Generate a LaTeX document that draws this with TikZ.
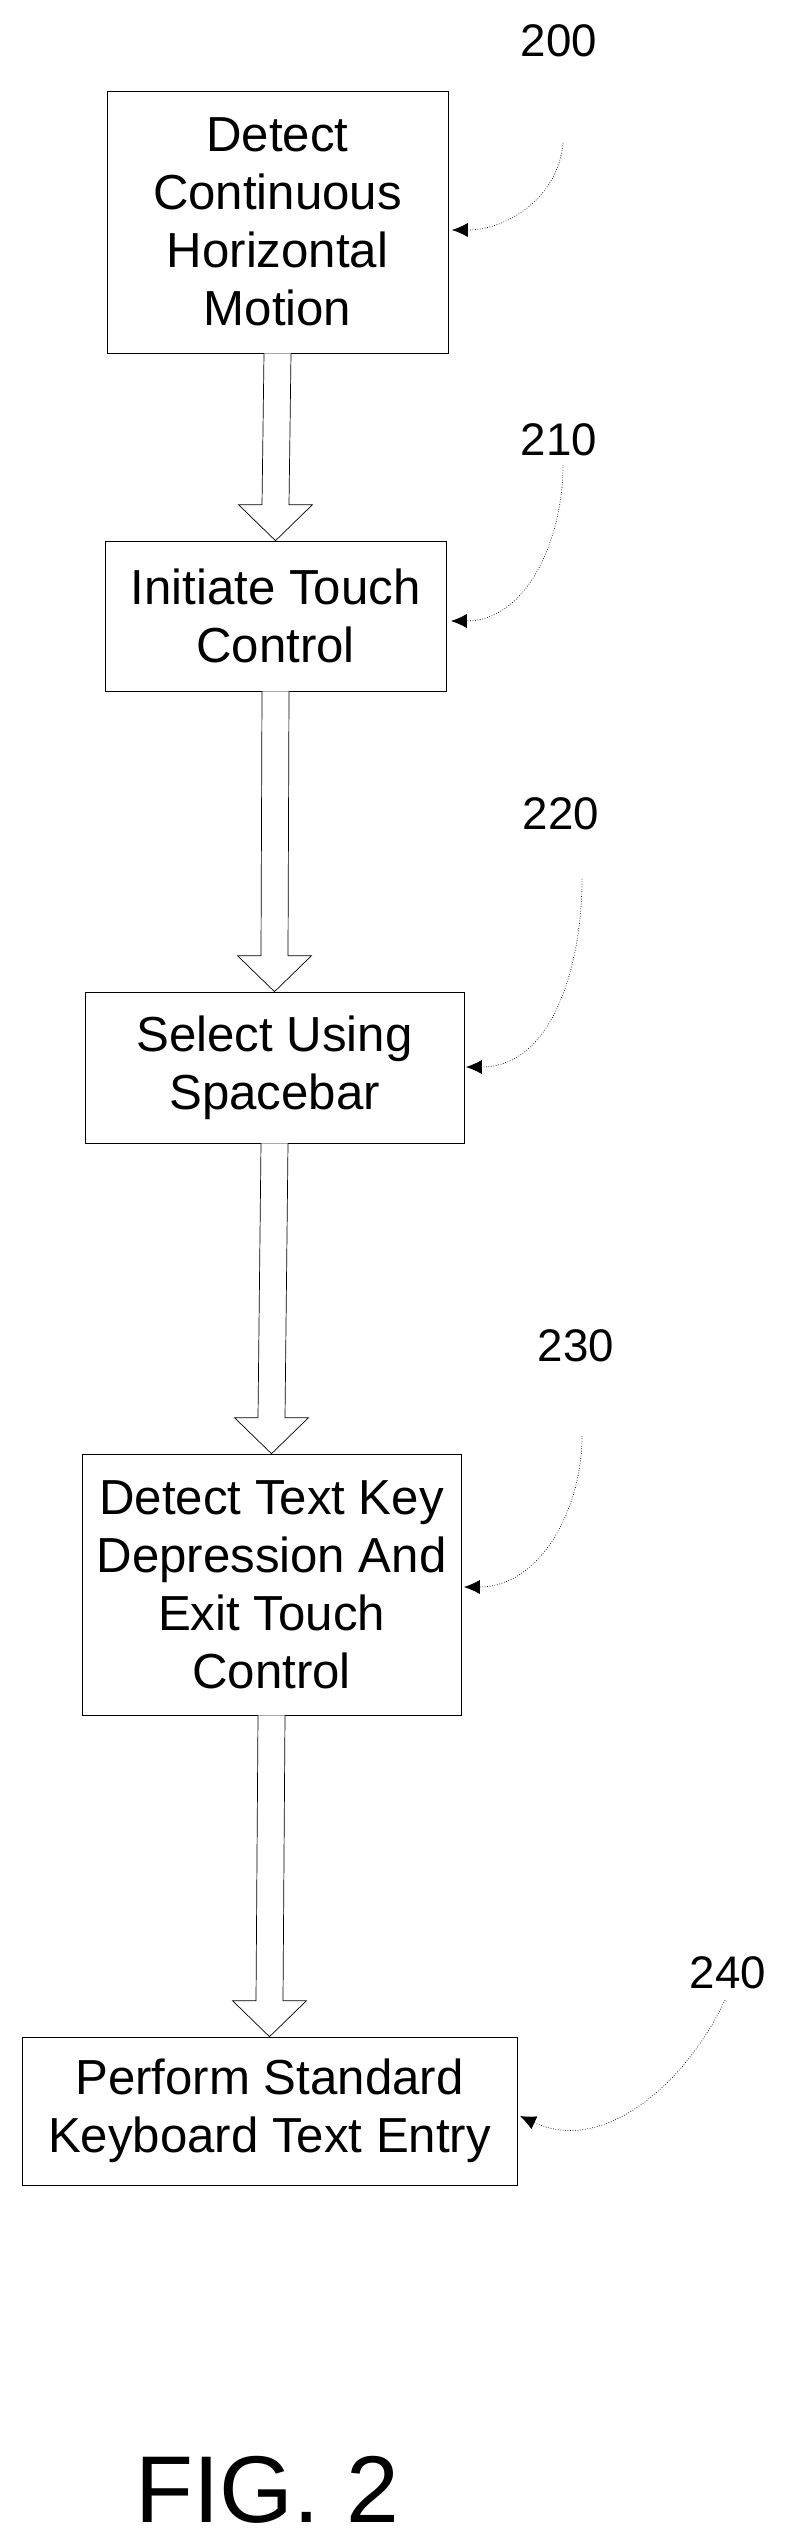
\documentclass[tikz,border=0pt]{standalone}
\usepackage{fontspec}
\setmainfont{Liberation Sans}
\usetikzlibrary{calc,arrows.meta}

\tikzset{
  stepbox/.style={draw, thin, align=center, inner sep=0pt,
                  font=\fontsize{28}{33}\selectfont},
  ref/.style={font=\fontsize{26}{30}\selectfont},
  lead/.style={densely dotted, thin, -{Latex[length=9pt,width=8pt]}},
}
% hollow block arrow between two boxes
\newcommand{\blockarrow}[2]{%
  \draw[thin, fill=white] ($(#1.south)+(-13.5,0)$) -- ($(#2.north)+(-13.5,-36)$)
    -- ($(#2.north)+(-37,-36)$) -- (#2.north) -- ($(#2.north)+(37,-36)$)
    -- ($(#2.north)+(13.5,-36)$) -- ($(#1.south)+(13.5,0)$);}

\begin{document}
\begin{tikzpicture}[x=0.02cm, y=-0.02cm]
        \useasboundingbox (0,0) rectangle (785,2535);

        % Process boxes
        \node[stepbox, minimum width=6.82cm, minimum height=5.24cm] (detect)
              at (277.5,222) {Detect\\Continuous\\Horizontal\\Motion};
        \node[stepbox, minimum width=6.82cm, minimum height=3.0cm] (touch)
              at (275.5,616) {Initiate Touch\\Control};
        \node[stepbox, minimum width=7.58cm, minimum height=3.02cm] (select)
              at (274.5,1067.5) {Select Using\\Spacebar};
        \node[stepbox, minimum width=7.58cm, minimum height=5.22cm] (exit)
              at (271.5,1584.5) {Detect Text Key\\Depression And\\Exit Touch\\Control};
        \node[stepbox, minimum width=9.9cm, minimum height=2.96cm] (entry)
              at (269.5,2111) {Perform Standard\\Keyboard Text Entry};

        % Block arrows
        \blockarrow{detect}{touch}
        \blockarrow{touch}{select}
        \blockarrow{select}{exit}
        \blockarrow{exit}{entry}

        % Reference numerals
        \node[ref] (n200) at (559,41) {200};
        \node[ref] (n210) at (559,440) {210};
        \node[ref] (n220) at (561,814) {220};
        \node[ref] (n230) at (576,1346) {230};
        \node[ref] (n240) at (728,1973) {240};

        % Leader lines
        \coordinate (s200) at (563,143);  \coordinate (t200) at (452,230);
        \coordinate (s210) at (563,465);  \coordinate (t210) at (451,621);
        \coordinate (s220) at (582,879);  \coordinate (t220) at (466,1067);
        \coordinate (s230) at (582,1436); \coordinate (t230) at (464,1587);
        \coordinate (s240) at (725,2000); \coordinate (t240) at (520,2116);
        \draw[lead] (s200) to[out=-95,in=0] (t200);
        \draw[lead] (s210) to[out=-90,in=0] (t210);
        \draw[lead] (s220) to[out=-90,in=0] (t220);
        \draw[lead] (s230) to[out=-90,in=0] (t230);
        \draw[lead] (s240) to[out=-115,in=-25] (t240);

        \node[font=\fontsize{54}{60}\selectfont] (fig) at (267,2490) {FIG. 2};
    \end{tikzpicture}
\end{document}
